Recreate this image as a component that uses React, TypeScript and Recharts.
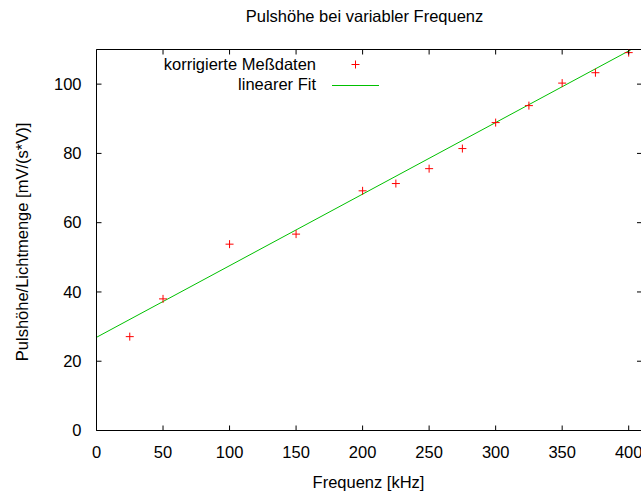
import { ComposedChart, XAxis, YAxis, Scatter, Line, Legend } from "recharts"

// Messpunkte (korrigiert)
const freqKHz = [25, 50, 100, 150, 200, 225, 250, 275, 300, 325, 350, 375, 400]
const pulsHoehe = [27.1, 38, 53.8, 56.7, 69.2, 71.3, 75.6, 81.4, 88.9, 93.8, 100.3, 103.3, 109.1]

// linearer Fit: Endpunkte der Geraden
const fitX = [0, 402]
const fitY = [26.9, 110]

const xTicks = [0, 50, 100, 150, 200, 250, 300, 350, 400]
const yTicks = [0, 20, 40, 60, 80, 100]

const measured = freqKHz.map((x, i) => ({ x, y: pulsHoehe[i] }))
const fit = fitX.map((x, i) => ({ x, y: fitY[i] }))

const FONT = "'Liberation Sans', Arial, Helvetica, sans-serif"
const FS = 16.5
const AXIS = "#000"
const RED = "#ff0000"
const GREEN = "#00c000"

// gnuplot-style ticks: pointing inward on all four sides
const BottomTick = (p: any) => (
  <g>
    <line x1={p.x} x2={p.x} y1={p.y} y2={p.y - 5} stroke={AXIS} />
    <text x={p.x} y={p.y + 27} textAnchor="middle" fontSize={FS} fontFamily={FONT} fill="#000">
      {p.payload.value}
    </text>
  </g>
)

const TopTick = (p: any) => <line x1={p.x} x2={p.x} y1={p.y} y2={p.y + 5} stroke={AXIS} />

const LeftTick = (p: any) => (
  <g>
    <line x1={p.x} x2={p.x + 5} y1={p.y} y2={p.y} stroke={AXIS} />
    <text x={p.x - 15} y={p.y + 5.8} textAnchor="end" fontSize={FS} fontFamily={FONT} fill="#000">
      {p.payload.value}
    </text>
  </g>
)

const RightTick = (p: any) => <line x1={p.x} x2={p.x - 5} y1={p.y} y2={p.y} stroke={AXIS} />

const Plus = (p: any) => (
  <g stroke={RED} strokeWidth={1}>
    <line x1={p.cx - 4} x2={p.cx + 4} y1={p.cy} y2={p.cy} />
    <line x1={p.cx} x2={p.cx} y1={p.cy - 4} y2={p.cy + 4} />
  </g>
)

const KeyBox = () => (
  <svg width={240} height={50} style={{ display: "block" }}>
    <text x={166} y={19.5} textAnchor="end" fontSize={FS} fontFamily={FONT} fill="#000">
      korrigierte Meßdaten
    </text>
    <g stroke={RED}>
      <line x1={201.5} x2={209.5} y1={14.5} y2={14.5} />
      <line x1={205.5} x2={205.5} y1={10.5} y2={18.5} />
    </g>
    <text x={166} y={39.5} textAnchor="end" fontSize={FS} fontFamily={FONT} fill="#000">
      linearer Fit
    </text>
    <line x1={182} x2={229} y1={35.5} y2={35.5} stroke={GREEN} />
  </svg>
)

export default function App() {
  return (
    <div
      style={{
        position: "fixed",
        left: 0,
        top: 0,
        width: 641,
        height: 495,
        overflow: "hidden",
        background: "#fff",
      }}
    >
      <ComposedChart
        width={660}
        height={495}
        margin={{ top: 39.5, right: 8, bottom: 34.5, left: 56.5 }}
      >
        <XAxis
          xAxisId="bottom"
          dataKey="x"
          type="number"
          domain={[0, 410]}
          ticks={xTicks}
          interval={0}
          allowDataOverflow
          height={30}
          tickSize={0}
          tickMargin={0}
          axisLine={{ stroke: AXIS }}
          tickLine={false}
          tick={BottomTick}
        />
        <XAxis
          xAxisId="top"
          orientation="top"
          dataKey="x"
          type="number"
          domain={[0, 410]}
          ticks={xTicks}
          interval={0}
          allowDataOverflow
          height={10}
          tickSize={0}
          tickMargin={0}
          axisLine={{ stroke: AXIS }}
          tickLine={false}
          tick={TopTick}
        />
        <YAxis
          yAxisId="left"
          type="number"
          domain={[0, 110]}
          ticks={yTicks}
          interval={0}
          allowDataOverflow
          width={40}
          tickSize={0}
          tickMargin={0}
          axisLine={{ stroke: AXIS }}
          tickLine={false}
          tick={LeftTick}
        />
        <YAxis
          yAxisId="right"
          orientation="right"
          type="number"
          domain={[0, 110]}
          ticks={yTicks}
          interval={0}
          allowDataOverflow
          width={10}
          tickSize={0}
          tickMargin={0}
          axisLine={{ stroke: AXIS }}
          tickLine={false}
          tick={RightTick}
        />
        <Line
          xAxisId="bottom"
          yAxisId="left"
          data={fit}
          dataKey="y"
          type="linear"
          stroke={GREEN}
          strokeWidth={1}
          dot={false}
          activeDot={false}
          isAnimationActive={false}
          name="linearer Fit"
        />
        <Scatter
          xAxisId="bottom"
          yAxisId="left"
          data={measured}
          dataKey="y"
          shape={Plus}
          isAnimationActive={false}
          name="korrigierte Meßdaten"
        />
        <Legend
          layout="horizontal"
          verticalAlign="middle"
          align="center"
          wrapperStyle={{ top: 50, left: 150, width: 240, height: 50 }}
          content={KeyBox}
        />
      </ComposedChart>
      <svg width={641} height={495} style={{ position: "absolute", left: 0, top: 0, pointerEvents: "none" }}>
        <text x={364.5} y={22} textAnchor="middle" fontSize={FS} fontFamily={FONT} fill="#000">
          Pulshöhe bei variabler Frequenz
        </text>
        <text x={368.5} y={488} textAnchor="middle" fontSize={FS} fontFamily={FONT} fill="#000">
          Frequenz [kHz]
        </text>
        <text
          x={0}
          y={0}
          transform="translate(28,242) rotate(-90)"
          textAnchor="middle"
          fontSize={FS}
          fontFamily={FONT}
          fill="#000"
        >
          Pulshöhe/Lichtmenge [mV/(s*V)]
        </text>
      </svg>
    </div>
  )
}
